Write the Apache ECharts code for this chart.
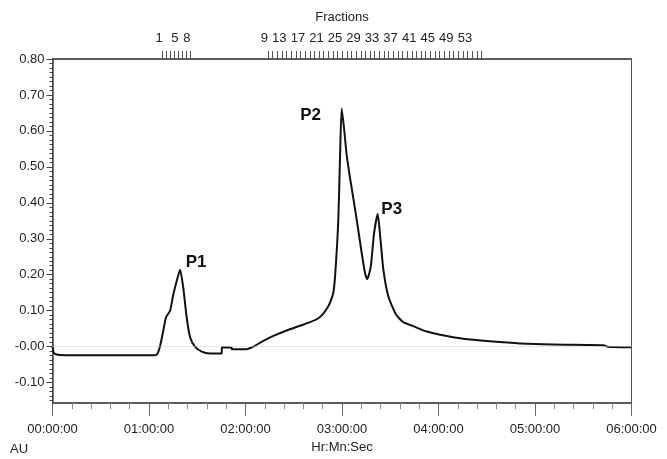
<!DOCTYPE html>
<html>
<head>
<meta charset="utf-8">
<script src="https://cdn.jsdelivr.net/npm/echarts@6/dist/echarts.min.js"></script>
<style>
html,body{margin:0;padding:0;background:#fff}
#chart{width:667px;height:459px}
</style>
</head>
<body>
<div id="chart"></div>
<script>
// time in minutes, absorbance in AU
let time_list=[0,0.6,2,5,20,40,55,62,64.8,66.8,68.9,70.6,73.1,75.1,77.2,79.3,81.3,83.4,85.5,88.6,92.8,97.9,105.2,105.3,111.4,111.5,120.7,124.9,131.1,137.3,145.6,153.9,160.1,165.3,168.4,170.9,172.5,174.6,175.7,177.7,178.8,179.8,181.3,182.9,185.0,187.0,189.2,192.3,194.3,195.7,197.9,199.9,202.2,203.6,205.7,208.8,213.5,218.1,224.3,232.7,241.0,255.4,272.0,290.7,311.4,342.5,345,360]
let au_list=[0,-0.015,-0.021,-0.023,-0.024,-0.024,-0.024,-0.024,-0.022,0.0,0.045,0.082,0.10,0.145,0.182,0.214,0.164,0.082,0.027,0.0,-0.014,-0.019,-0.019,-0.002,-0.003,-0.007,-0.007,0.0,0.016,0.030,0.045,0.058,0.068,0.079,0.092,0.108,0.122,0.150,0.196,0.351,0.533,0.662,0.606,0.533,0.469,0.414,0.351,0.259,0.205,0.188,0.223,0.314,0.369,0.314,0.215,0.140,0.090,0.068,0.057,0.042,0.033,0.022,0.015,0.009,0.006,0.004,0.0,-0.002]

// fraction collector marks (top axis)
let fraction_no=[1,2,3,4,5,6,7,8,9,10,11,12,13,14,15,16,17,18,19,20,21,22,23,24,25,26,27,28,29,30,31,32,33,34,35,36,37,38,39,40,41,42,43,44,45,46,47,48,49,50,51,52,53,54,55]
let fraction_time=[68.5,71.0,73.4,75.9,78.4,80.8,83.3,85.8,
    134.0,136.9,139.8,142.7,145.5,148.4,151.3,154.2,157.1,160.0,162.8,165.7,168.6,171.5,174.4,177.3,180.1,183.0,185.9,188.8,191.7,194.6,197.4,200.3,203.2,206.1,209.0,211.9,214.7,217.6,220.5,223.4,226.3,229.2,232.0,234.9,237.8,240.7,243.6,246.5,249.3,252.2,255.1,258.0,260.9,263.8,266.6]
let fraction_label=[1,5,8,9,13,17,21,25,29,33,37,41,45,49,53]

// y ticks
let y_ticks=[-0.1,0,0.1,0.2,0.3,0.4,0.5,0.6,0.7,0.8]
let y_minor=[]
for(let k=-12;k<=64;k++){
    if(k%8!==0) y_minor.push(k*0.0125)
}

// peaks
let peak_list=[
    {name:'P1',coord:[79.3,0.214],offset:[16,-7]},
    {name:'P2',coord:[179.8,0.662],offset:[-31,7]},
    {name:'P3',coord:[202.2,0.369],offset:[14,-5]}
]

let font='"Liberation Sans", Arial, sans-serif'
let chart=echarts.init(document.getElementById('chart'))
let seriesData=time_list.map((t,i)=>[t,au_list[i]])

chart.setOption({
    animation:false,
    grid:{left:52.5,right:35.5,top:59,bottom:50,show:true,borderColor:'#555',borderWidth:1},
    xAxis:[
        {
            type:'value',min:0,max:360,interval:60,position:'bottom',
            name:'Hr:Mn:Sec',nameLocation:'middle',nameGap:35,
            nameTextStyle:{fontFamily:font,fontSize:13,color:'#222'},
            axisLine:{onZero:false,lineStyle:{color:'#444',width:1.5}},
            axisTick:{length:13,lineStyle:{color:'#666'}},
            minorTick:{show:true,splitNumber:5,length:6,lineStyle:{color:'#888'}},
            axisLabel:{margin:20,fontFamily:font,fontSize:13,color:'#222',
                formatter:function(v){
                    let h=Math.floor(v/60)
                    return '0'+h+':00:00'
                }},
            splitLine:{show:false}
        },
        {
            type:'value',min:0,max:360,position:'top',
            name:'Fractions',nameLocation:'middle',nameGap:35,
            nameTextStyle:{fontFamily:font,fontSize:13,color:'#222'},
            axisLine:{onZero:false,lineStyle:{color:'#444',width:1.5}},
            axisTick:{length:8,customValues:fraction_time,lineStyle:{color:'#555'}},
            axisLabel:{margin:14,fontFamily:font,fontSize:13,color:'#222',align:'right',
                customValues:fraction_label.map(n=>fraction_time[fraction_no.indexOf(n)]),
                formatter:function(v){
                    return String(fraction_no[fraction_time.indexOf(v)])
                }},
            splitLine:{show:false}
        }
    ],
    yAxis:[
        {
            type:'value',min:-0.157,max:0.8,
            axisLine:{show:true,onZero:false,lineStyle:{color:'#444',width:1.5}},
            axisTick:{show:true,length:6,customValues:y_ticks,lineStyle:{color:'#444'}},
            axisLabel:{margin:8,fontFamily:font,fontSize:13,color:'#222',customValues:y_ticks,
                formatter:function(v){
                    if(Math.abs(v)<1e-9) return '-0.00'
                    return v.toFixed(2)
                }},
            splitLine:{show:false}
        },
        {
            type:'value',min:-0.157,max:0.8,position:'left',
            axisLine:{show:false,onZero:false},
            axisTick:{show:true,length:3,customValues:y_minor,lineStyle:{color:'#444'}},
            axisLabel:{show:false},
            splitLine:{show:false}
        }
    ],
    series:[
        {
            type:'line',
            data:seriesData,
            showSymbol:false,
            smooth:0.2,
            lineStyle:{color:'#111',width:2},
            markLine:{
                silent:true,symbol:'none',
                label:{show:false},
                lineStyle:{color:'#ccc',type:'dotted',width:1},
                data:[{yAxis:0}]
            },
            markPoint:{
                symbol:'circle',symbolSize:1,
                itemStyle:{color:'rgba(0,0,0,0)'},
                label:{show:true,fontFamily:font,fontSize:17,fontWeight:'bold',color:'#111'},
                data:peak_list.map(p=>({name:p.name,coord:p.coord,
                    label:{formatter:p.name,offset:p.offset}}))
            }
        }
    ],
    graphic:[
        {type:'text',left:10,top:443,style:{text:'AU',font:'13px '+font,fill:'#222'}}
    ]
})
</script>
</body>
</html>
